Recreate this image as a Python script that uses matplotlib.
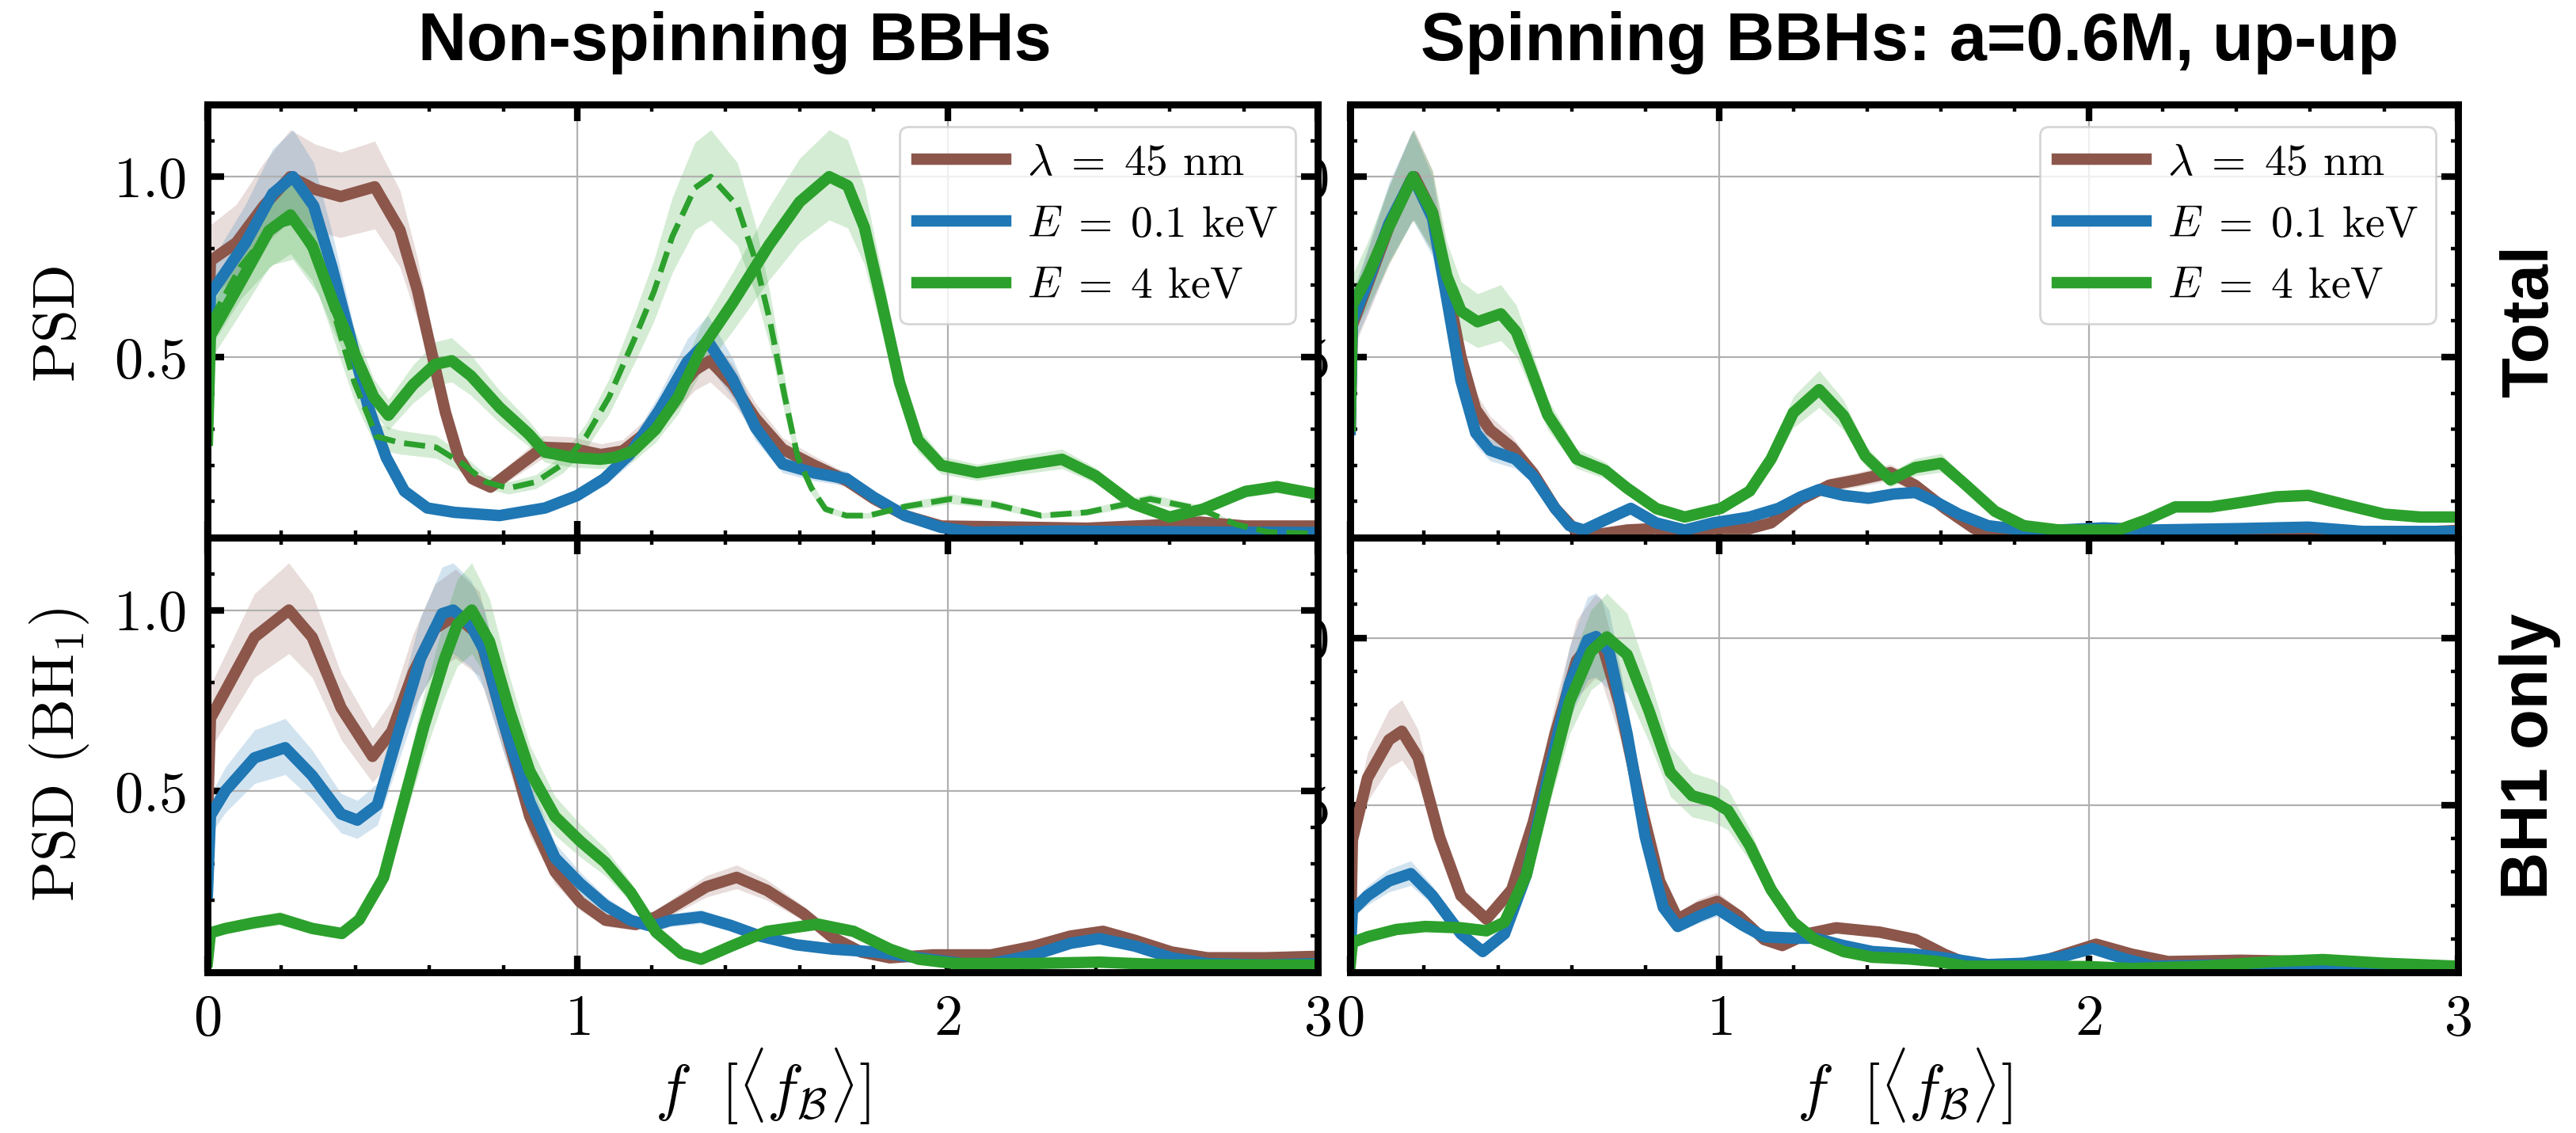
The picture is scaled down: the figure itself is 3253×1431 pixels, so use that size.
import numpy as np
import matplotlib
matplotlib.use("Agg")
import matplotlib.pyplot as plt
from matplotlib.ticker import MultipleLocator, FixedLocator

plt.rcParams.update({
    "font.family": "serif",
    "font.serif": ["cmr10"],
    "mathtext.fontset": "cm",
    "axes.formatter.use_mathtext": True,
    "axes.unicode_minus": False,
})

C_BROWN = "#8c564b"
C_BLUE = "#1f77b4"
C_GREEN = "#2ca02c"
BAND_HI, BAND_LO = 1.13, 0.88   # shaded uncertainty band relative to each PSD curve
LABELS = [r"$\lambda\;=\;45$ nm", r"$E\;=\;0.1$ keV", r"$E\;=\;4$ keV"]

# ---------------- Non-spinning, total ----------------
tl_brown_f = [0.0, 0.008, 0.078, 0.152, 0.224, 0.29, 0.36, 0.452, 0.52, 0.568, 0.605, 0.643, 0.679, 0.716, 0.765,
              0.829, 0.907, 0.985, 1.063, 1.122, 1.18, 1.258, 1.317, 1.358, 1.419, 1.481, 1.554, 1.64, 1.727, 1.8,
              1.885, 1.983, 2.13, 2.376, 2.55, 2.683, 2.805, 3.0]
tl_brown_p = [0.5, 0.767, 0.817, 0.919, 1.0, 0.965, 0.945, 0.972, 0.852, 0.683, 0.516, 0.347, 0.222, 0.163, 0.14,
              0.19, 0.25, 0.247, 0.23, 0.24, 0.287, 0.39, 0.464, 0.49, 0.425, 0.33, 0.245, 0.2, 0.158, 0.108,
              0.061, 0.032, 0.03, 0.026, 0.034, 0.043, 0.032, 0.032]

tl_blue_f = [0.0, 0.008, 0.103, 0.176, 0.231, 0.287, 0.336, 0.385, 0.434, 0.483, 0.532, 0.594, 0.667, 0.789, 0.912,
             0.998, 1.072, 1.141, 1.22, 1.297, 1.352, 1.419, 1.481, 1.554, 1.64, 1.727, 1.8, 1.885, 1.983, 2.07,
             2.3, 2.6, 3.0]
tl_blue_p = [0.45, 0.675, 0.817, 0.953, 1.0, 0.919, 0.751, 0.558, 0.364, 0.222, 0.129, 0.082, 0.07, 0.061, 0.082,
             0.116, 0.163, 0.231, 0.351, 0.488, 0.545, 0.44, 0.305, 0.204, 0.179, 0.163, 0.112, 0.061, 0.028, 0.015,
             0.018, 0.016, 0.014]

tl_green_f = [0.0, 0.008, 0.088, 0.166, 0.224, 0.283, 0.341, 0.4, 0.449, 0.489, 0.556, 0.615, 0.66, 0.712, 0.79,
              0.868, 0.912, 0.985, 1.06, 1.1, 1.15, 1.211, 1.272, 1.333, 1.419, 1.517, 1.6, 1.68, 1.73, 1.775,
              1.82, 1.87, 1.92, 1.983, 2.08, 2.2, 2.309, 2.4, 2.5, 2.6, 2.69, 2.805, 2.89, 3.0]
tl_green_p = [0.27, 0.56, 0.705, 0.85, 0.894, 0.81, 0.649, 0.504, 0.39, 0.339, 0.424, 0.48, 0.49, 0.448, 0.36,
              0.287, 0.237, 0.222, 0.217, 0.222, 0.24, 0.3, 0.39, 0.52, 0.65, 0.81, 0.93, 1.0, 0.975, 0.86,
              0.66, 0.43, 0.27, 0.2, 0.18, 0.2, 0.217, 0.171, 0.094, 0.057, 0.079, 0.128, 0.141, 0.12]

tl_dash_f = [0.0, 0.008, 0.09, 0.176, 0.231, 0.3, 0.348, 0.397, 0.457, 0.52, 0.618, 0.69, 0.752, 0.814, 0.887,
             0.961, 1.023, 1.085, 1.157, 1.207, 1.256, 1.317, 1.36, 1.432, 1.481, 1.52, 1.56, 1.595, 1.632, 1.67,
             1.726, 1.787, 1.885, 2.008, 2.13, 2.253, 2.376, 2.547, 2.683, 2.781, 2.867, 3.0]
tl_dash_p = [0.35, 0.6, 0.751, 0.86, 0.876, 0.766, 0.6, 0.43, 0.28, 0.263, 0.25, 0.204, 0.154, 0.137, 0.154,
             0.204, 0.28, 0.389, 0.558, 0.683, 0.834, 0.969, 1.0, 0.919, 0.767, 0.6, 0.39, 0.222, 0.137, 0.079,
             0.061, 0.061, 0.086, 0.107, 0.091, 0.061, 0.07, 0.107, 0.079, 0.036, 0.015, 0.011]

# ---------------- Spinning, total ----------------
tr_brown_f = [0.0, 0.006, 0.047, 0.105, 0.164, 0.174, 0.223, 0.262, 0.3, 0.34, 0.379, 0.4375, 0.496, 0.555, 0.613,
              0.672, 0.75, 0.828, 0.906, 0.984, 1.082, 1.14, 1.22, 1.297, 1.375, 1.463, 1.53, 1.61, 1.69, 1.766,
              2.0, 2.4, 2.6, 2.8, 3.0]
tr_brown_p = [0.3, 0.588, 0.7, 0.861, 0.99, 1.0, 0.9, 0.7, 0.5, 0.355, 0.298, 0.25, 0.178, 0.081, 0.017,
              0.009, 0.021, 0.025, 0.017, 0.025, 0.025, 0.041, 0.105, 0.145, 0.16, 0.18, 0.145, 0.081, 0.025, 0.005,
              0.005, 0.006, 0.015, 0.01, 0.02]

tr_blue_f = [0.0, 0.006, 0.047, 0.105, 0.17, 0.223, 0.262, 0.3, 0.34, 0.379, 0.447, 0.496, 0.555, 0.594, 0.633,
             0.691, 0.76, 0.828, 0.906, 0.984, 1.082, 1.16, 1.22, 1.27, 1.336, 1.404, 1.473, 1.53, 1.59, 1.648,
             1.727, 1.824, 1.92, 2.04, 2.176, 2.41, 2.595, 2.742, 3.0]
tr_blue_p = [0.3, 0.6, 0.708, 0.87, 1.0, 0.885, 0.66, 0.435, 0.29, 0.242, 0.218, 0.17, 0.081, 0.033, 0.021,
             0.049, 0.081, 0.041, 0.021, 0.041, 0.057, 0.081, 0.113, 0.133, 0.117, 0.109, 0.121, 0.125, 0.097, 0.065,
             0.033, 0.021, 0.021, 0.027, 0.021, 0.025, 0.029, 0.017, 0.017]

tr_green_f = [0.0, 0.006, 0.047, 0.105, 0.17, 0.223, 0.262, 0.3, 0.345, 0.408, 0.45, 0.477, 0.535, 0.613, 0.69,
              0.75, 0.83, 0.906, 1.004, 1.082, 1.14, 1.2, 1.27, 1.336, 1.395, 1.463, 1.53, 1.6, 1.668, 1.746,
              1.824, 1.92, 2.08, 2.156, 2.234, 2.33, 2.41, 2.508, 2.595, 2.703, 2.8, 2.898, 3.0]
tr_green_p = [0.31, 0.644, 0.724, 0.861, 1.0, 0.9, 0.724, 0.628, 0.598, 0.62, 0.57, 0.5, 0.34, 0.218, 0.186,
              0.137, 0.08, 0.057, 0.081, 0.129, 0.218, 0.346, 0.41, 0.338, 0.226, 0.16, 0.194, 0.206, 0.145, 0.073,
              0.033, 0.021, 0.021, 0.049, 0.085, 0.085, 0.097, 0.113, 0.117, 0.089, 0.065, 0.057, 0.057]

# ---------------- Non-spinning, BH1 only ----------------
bl_brown_f = [0.0, 0.008, 0.049, 0.127, 0.22, 0.283, 0.361, 0.446, 0.498, 0.556, 0.615, 0.67, 0.735, 0.803, 0.871,
              0.939, 1.007, 1.075, 1.157, 1.212, 1.348, 1.43, 1.512, 1.61, 1.688, 1.766, 1.844, 1.961, 2.117, 2.234,
              2.332, 2.42, 2.507, 2.605, 2.702, 2.858, 3.0]
bl_brown_p = [0.43, 0.701, 0.778, 0.925, 1.0, 0.925, 0.73, 0.596, 0.665, 0.827, 0.949, 0.985, 0.93, 0.68, 0.43,
              0.278, 0.194, 0.144, 0.132, 0.153, 0.236, 0.262, 0.226, 0.162, 0.097, 0.056, 0.04, 0.048, 0.048, 0.072,
              0.1, 0.113, 0.088, 0.056, 0.04, 0.04, 0.044]

bl_blue_f = [0.0, 0.008, 0.049, 0.127, 0.21, 0.283, 0.361, 0.405, 0.459, 0.517, 0.576, 0.634, 0.664, 0.712, 0.748,
             0.803, 0.871, 0.939, 1.007, 1.075, 1.144, 1.2, 1.25, 1.334, 1.415, 1.493, 1.59, 1.688, 1.805, 1.922,
             2.039, 2.117, 2.234, 2.332, 2.41, 2.507, 2.605, 2.702, 2.858, 3.0]
bl_blue_p = [0.22, 0.433, 0.502, 0.592, 0.62, 0.543, 0.437, 0.42, 0.462, 0.665, 0.868, 0.99, 1.0, 0.957, 0.888,
             0.68, 0.47, 0.316, 0.245, 0.185, 0.143, 0.127, 0.143, 0.153, 0.129, 0.1, 0.076, 0.064, 0.056, 0.04,
             0.024, 0.024, 0.048, 0.08, 0.093, 0.072, 0.04, 0.024, 0.02, 0.024]

bl_green_f = [0.0, 0.008, 0.049, 0.127, 0.196, 0.283, 0.363, 0.41, 0.476, 0.53, 0.585, 0.64, 0.675, 0.714, 0.762,
              0.817, 0.871, 0.939, 1.007, 1.075, 1.144, 1.212, 1.28, 1.334, 1.415, 1.512, 1.649, 1.746, 1.844, 1.922,
              2.02, 2.215, 2.41, 2.605, 3.0]
bl_green_p = [0.03, 0.109, 0.121, 0.137, 0.148, 0.121, 0.107, 0.145, 0.262, 0.47, 0.68, 0.863, 0.96, 1.0, 0.913,
              0.72, 0.555, 0.43, 0.362, 0.303, 0.22, 0.111, 0.052, 0.036, 0.072, 0.113, 0.133, 0.113, 0.064, 0.036,
              0.024, 0.024, 0.028, 0.02, 0.02]

# ---------------- Spinning, BH1 only ----------------
br_brown_f = [0.0, 0.006, 0.047, 0.105, 0.14, 0.184, 0.242, 0.3, 0.369, 0.4375, 0.496, 0.555, 0.613, 0.662, 0.68,
              0.73, 0.789, 0.838, 0.887, 0.945, 0.994, 1.053, 1.121, 1.17, 1.238, 1.316, 1.434, 1.531, 1.609, 1.688,
              1.785, 1.883, 2.02, 2.117, 2.215, 2.41, 2.605, 2.8, 3.0]
br_brown_p = [0.05, 0.396, 0.581, 0.695, 0.721, 0.642, 0.405, 0.229, 0.159, 0.247, 0.449, 0.713, 0.932, 0.998, 0.99,
              0.8, 0.493, 0.273, 0.159, 0.194, 0.212, 0.168, 0.098, 0.08, 0.115, 0.133, 0.12, 0.098, 0.054, 0.018,
              0.014, 0.036, 0.084, 0.054, 0.032, 0.036, 0.032, 0.023, 0.014]

br_blue_f = [0.0, 0.006, 0.047, 0.105, 0.164, 0.223, 0.3, 0.359, 0.418, 0.477, 0.535, 0.594, 0.643, 0.666, 0.701,
             0.75, 0.799, 0.848, 0.887, 0.945, 0.994, 1.0625, 1.121, 1.2, 1.258, 1.336, 1.414, 1.531, 1.629, 1.727,
             1.824, 1.922, 2.01, 2.098, 2.176, 2.41, 2.605, 3.0]
br_blue_p = [0.05, 0.185, 0.229, 0.273, 0.295, 0.229, 0.115, 0.062, 0.115, 0.291, 0.581, 0.862, 0.994, 1.004, 0.959,
             0.713, 0.405, 0.194, 0.137, 0.168, 0.19, 0.141, 0.106, 0.102, 0.102, 0.08, 0.062, 0.054, 0.04, 0.023,
             0.027, 0.045, 0.071, 0.04, 0.018, 0.023, 0.014, 0.01]

br_green_f = [0.0, 0.006, 0.047, 0.125, 0.203, 0.3, 0.369, 0.418, 0.477, 0.535, 0.594, 0.652, 0.695, 0.75, 0.809,
              0.867, 0.926, 0.984, 1.023, 1.082, 1.14, 1.2, 1.258, 1.336, 1.414, 1.512, 1.59, 1.668, 1.824, 2.0,
              2.117, 2.31, 2.5, 2.635, 2.8, 3.0]
br_green_p = [0.02, 0.089, 0.106, 0.128, 0.137, 0.133, 0.124, 0.15, 0.291, 0.554, 0.809, 0.959, 1.003, 0.95, 0.783,
              0.598, 0.528, 0.51, 0.484, 0.379, 0.247, 0.15, 0.098, 0.062, 0.045, 0.04, 0.032, 0.018, 0.018, 0.017,
              0.011, 0.018, 0.032, 0.038, 0.027, 0.018]

X_TICKS = [0, 1, 2, 3]
Y_TICKS = [0.5, 1.0]

W, H = 3253, 1431
fig = plt.figure(figsize=(W / 200, H / 200), dpi=200)


def rect(x0, x1, y0, y1):
    return [x0 / W, 1 - y1 / H, (x1 - x0) / W, (y1 - y0) / H]


ax_tr = fig.add_axes(rect(1705, 3104, 132, 679))
ax_br = fig.add_axes(rect(1705, 3104, 679, 1228))
ax_tl = fig.add_axes(rect(262, 1664, 132, 679))
ax_bl = fig.add_axes(rect(262, 1664, 679, 1228))
for a in (ax_tl, ax_bl):
    a.set_zorder(3)
for a in (ax_tr, ax_br):
    a.set_zorder(1)

LW = 5.2


def draw(ax, f, p, color, ls="-", lw=LW):
    f = np.asarray(f)
    p = np.asarray(p)
    ax.fill_between(f, p * BAND_LO, p * BAND_HI, color=color, alpha=0.2, lw=0)
    line, = ax.plot(f, p, color=color, lw=lw, ls=ls, solid_joinstyle="round", dash_joinstyle="round")
    return line


def style(ax, ytop, show_x):
    ax.set_xlim(0, 3)
    ax.set_ylim(0, ytop)
    ax.xaxis.set_major_locator(FixedLocator(X_TICKS))
    ax.xaxis.set_minor_locator(MultipleLocator(0.2))
    ax.yaxis.set_major_locator(FixedLocator(Y_TICKS))
    ax.yaxis.set_minor_locator(MultipleLocator(0.1))
    ax.tick_params(which="both", direction="in", top=True, right=True, labelsize=26)
    ax.tick_params(which="major", length=7.5, width=3.0, pad=10)
    ax.tick_params(which="minor", length=3.2, width=1.6)
    ax.tick_params(axis="x", labelbottom=show_x)
    for sp in ax.spines.values():
        sp.set_linewidth(3.2)
    ax.grid(True, which="major", color="#b0b0b0", lw=0.8)


# Total PSD panels
h_tl = [draw(ax_tl, tl_brown_f, tl_brown_p, C_BROWN),
        draw(ax_tl, tl_blue_f, tl_blue_p, C_BLUE)]
draw(ax_tl, tl_dash_f, tl_dash_p, C_GREEN, ls="--", lw=2.6)
h_tl.append(draw(ax_tl, tl_green_f, tl_green_p, C_GREEN))

h_tr = [draw(ax_tr, tr_brown_f, tr_brown_p, C_BROWN),
        draw(ax_tr, tr_blue_f, tr_blue_p, C_BLUE),
        draw(ax_tr, tr_green_f, tr_green_p, C_GREEN)]

# BH1-only panels
draw(ax_bl, bl_brown_f, bl_brown_p, C_BROWN)
draw(ax_bl, bl_blue_f, bl_blue_p, C_BLUE)
draw(ax_bl, bl_green_f, bl_green_p, C_GREEN)

draw(ax_br, br_brown_f, br_brown_p, C_BROWN)
draw(ax_br, br_blue_f, br_blue_p, C_BLUE)
draw(ax_br, br_green_f, br_green_p, C_GREEN)

style(ax_tl, 1.2, False)
style(ax_tr, 1.2, False)
style(ax_bl, 1.2, True)
style(ax_br, 1.3, True)

for ax, handles in ((ax_tl, h_tl), (ax_tr, h_tr)):
    ax.legend(handles, LABELS, loc="upper right", fontsize=20, handlelength=2.0,
              handletextpad=0.5, labelspacing=0.5, borderaxespad=0.5, fancybox=True, framealpha=0.8)

ax_tl.set_ylabel("PSD", fontsize=27)
ax_bl.set_ylabel(r"PSD $(\mathrm{BH}_1)$", fontsize=27)
ax_tl.yaxis.set_label_coords(-0.11, 0.5)
ax_bl.yaxis.set_label_coords(-0.105, 0.5)

xlab = r"$f\ \ [\langle f_{\mathcal{B}}\rangle]$"
for ax in (ax_bl, ax_br):
    ax.set_xlabel(xlab, fontsize=28)
    ax.xaxis.set_label_coords(0.5, -0.17)

sans = ["Liberation Sans", "DejaVu Sans"]
fig.text(928 / W, 1 - 76 / H, "Non-spinning BBHs", ha="center", va="baseline",
         fontsize=30.5, fontweight="bold", family=sans)
fig.text(2411 / W, 1 - 76 / H, "Spinning BBHs: a=0.6M, up-up", ha="center", va="baseline",
         fontsize=30.5, fontweight="bold", family=sans)
fig.text(3195 / W, 1 - 405 / H, "Total", rotation=90, ha="center", va="center",
         fontsize=30, fontweight="bold", family=sans)
fig.text(3195 / W, 1 - 955 / H, "BH1 only", rotation=90, ha="center", va="center",
         fontsize=30, fontweight="bold", family=sans)

fig.savefig("out.png", dpi=200)
